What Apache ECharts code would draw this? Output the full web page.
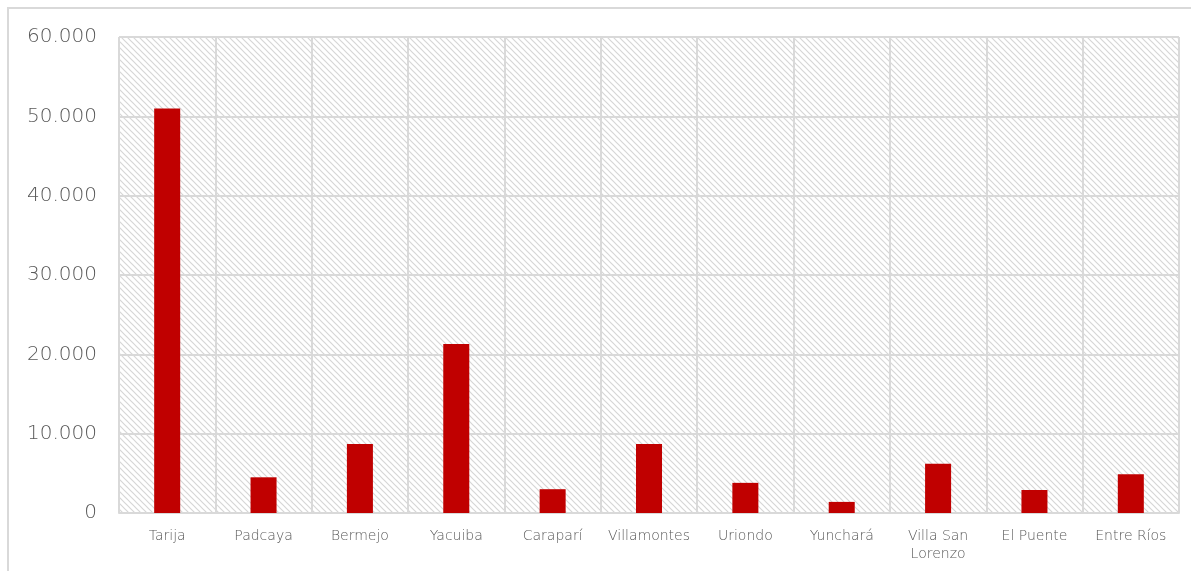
<!DOCTYPE html>
<html>
<head>
<meta charset="utf-8">
<script src="https://cdn.jsdelivr.net/npm/echarts@6/dist/echarts.min.js"></script>
<style>
html,body{margin:0;padding:0;background:#fff;}
#frame{position:absolute;left:7px;top:7px;width:1200px;height:600px;border-left:2px solid #d9d9d9;border-top:2px solid #d9d9d9;box-sizing:border-box;}
#chart{position:absolute;left:0;top:0;width:1191px;height:571px;}
</style>
</head>
<body>
<div id="frame"></div>
<div id="chart"></div>
<script>
const categories = ['Tarija','Padcaya','Bermejo','Yacuiba','Caraparí','Villamontes','Uriondo','Yunchará','Villa San\nLorenzo','El Puente','Entre Ríos'];
const values = [51000, 4500, 8700, 21300, 3000, 8700, 3800, 1400, 6200, 2900, 4900];
const yTicks = [0, 10000, 20000, 30000, 40000, 50000, 60000];

function makePattern(){
  const c = document.createElement('canvas');
  c.width = 6; c.height = 6;
  const ctx = c.getContext('2d');
  ctx.fillStyle = '#ffffff';
  ctx.fillRect(0,0,6,6);
  ctx.strokeStyle = '#d6d6d6';
  ctx.lineWidth = 1.2;
  ctx.beginPath();
  ctx.moveTo(-1,-1); ctx.lineTo(7,7);
  ctx.moveTo(-1,5); ctx.lineTo(1,7);
  ctx.moveTo(5,-1); ctx.lineTo(7,1);
  ctx.stroke();
  return c;
}

const font = '"DejaVu Sans", sans-serif';
const chart = echarts.init(document.getElementById('chart'), null, {renderer:'canvas'});
chart.setOption({
  animation:false,
  backgroundColor:'transparent',
  grid:{left:119,right:12,top:37,bottom:58,show:true,
    backgroundColor:{image:makePattern(),repeat:'repeat'},borderWidth:0},
  xAxis:{type:'category',data:categories,
    axisLine:{show:true,lineStyle:{color:'#d9d9d9',width:2}},
    axisTick:{show:false},
    splitLine:{show:true,lineStyle:{color:'#d9d9d9',width:2}},
    axisLabel:{color:'#595959',fontSize:14,fontWeight:300,fontFamily:font,margin:14,interval:0,lineHeight:18}
  },
  yAxis:{type:'value',min:0,max:60000,interval:10000,
    axisLine:{show:false},axisTick:{show:false},
    splitLine:{show:true,lineStyle:{color:'#d9d9d9',width:2}},
    axisLabel:{color:'#595959',fontSize:20,fontFamily:font,fontWeight:300,margin:22,
      formatter:function(v){return yTicks.indexOf(v)>=0 ? v.toLocaleString('de-DE') : '';}}
  },
  series:[{type:'bar',data:values,barWidth:'27%',itemStyle:{color:'#c00000'}}]
});
</script>
</body>
</html>
